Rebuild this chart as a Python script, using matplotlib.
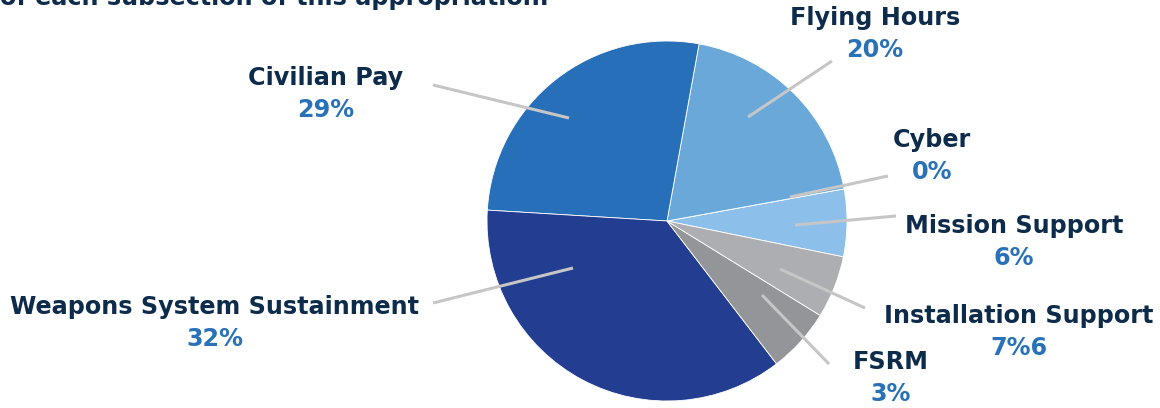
import matplotlib
matplotlib.use("Agg")
import matplotlib.pyplot as plt

# ---- data (wedge sizes as drawn, labels as printed) ----
categories = ["Mission Support", "Cyber", "Flying Hours", "Civilian Pay",
              "Weapons System Sustainment", "FSRM", "Installation Support"]
wedge_values = [6.06, 0.0, 19.3, 26.9, 36.4, 5.8, 5.6]
pct_labels = ["6%", "0%", "20%", "29%", "32%", "3%", "7%6"]
colors = ["#8CC0EA", "#8CC0EA", "#6AA8DA", "#2770B9", "#233D91", "#949599", "#ADAEB1"]

# ---- layout (image pixel coords, y down) ----
W, H = 1160, 408
center = (667, 221)
radius = 180
label_pos = {
    "Mission Support": (1014, 226),
    "Cyber": (932, 140),
    "Flying Hours": (875, 18),
    "Civilian Pay": (326, 78),
    "Weapons System Sustainment": (215, 307),
    "FSRM": (891, 362),
    "Installation Support": (1019, 316),
}
leaders = {
    "Mission Support": ((896, 216), (795, 225)),
    "Cyber": ((888, 176), (790, 197)),
    "Flying Hours": ((832, 61), (748, 117)),
    "Civilian Pay": ((433, 85), (569, 118)),
    "Weapons System Sustainment": ((433, 303), (573, 268)),
    "FSRM": ((829, 364), (762, 295)),
    "Installation Support": ((865, 308), (780, 269)),
}

NAVY = "#0D2B4A"
BLUE = "#2A72B8"
LEADER = "#C6C6C6"
FONT = "DejaVu Sans"
FS = 17.2

def Y(y):
    return H - y

fig = plt.figure(figsize=(W / 100, H / 100), dpi=100)
ax = fig.add_axes([0, 0, 1, 1])

ax.pie(wedge_values, colors=colors, startangle=-11.5, counterclock=True,
       center=(center[0], Y(center[1])), radius=radius,
       wedgeprops=dict(edgecolor="white", linewidth=0.6))

for name in categories:
    (x0, y0), (x1, y1) = leaders[name]
    ax.plot([x0, x1], [Y(y0), Y(y1)], color=LEADER, lw=2.2,
            solid_capstyle="butt", zorder=3)

for name, pct in zip(categories, pct_labels):
    x, y = label_pos[name]
    ax.text(x, Y(y), name, ha="center", va="center", color=NAVY,
            fontsize=FS, fontweight="bold", family=FONT)
    ax.text(x, Y(y + 32), pct, ha="center", va="center", color=BLUE,
            fontsize=FS, fontweight="bold", family=FONT)

ax.text(0, Y(5), "of each subsection of this appropriation.", ha="left",
        va="baseline", color=NAVY, fontsize=FS, fontweight="bold", family=FONT)

ax.set_xlim(0, W)
ax.set_ylim(0, H)
ax.set_aspect("equal")
ax.axis("off")
fig.savefig("out.png", dpi=100)
